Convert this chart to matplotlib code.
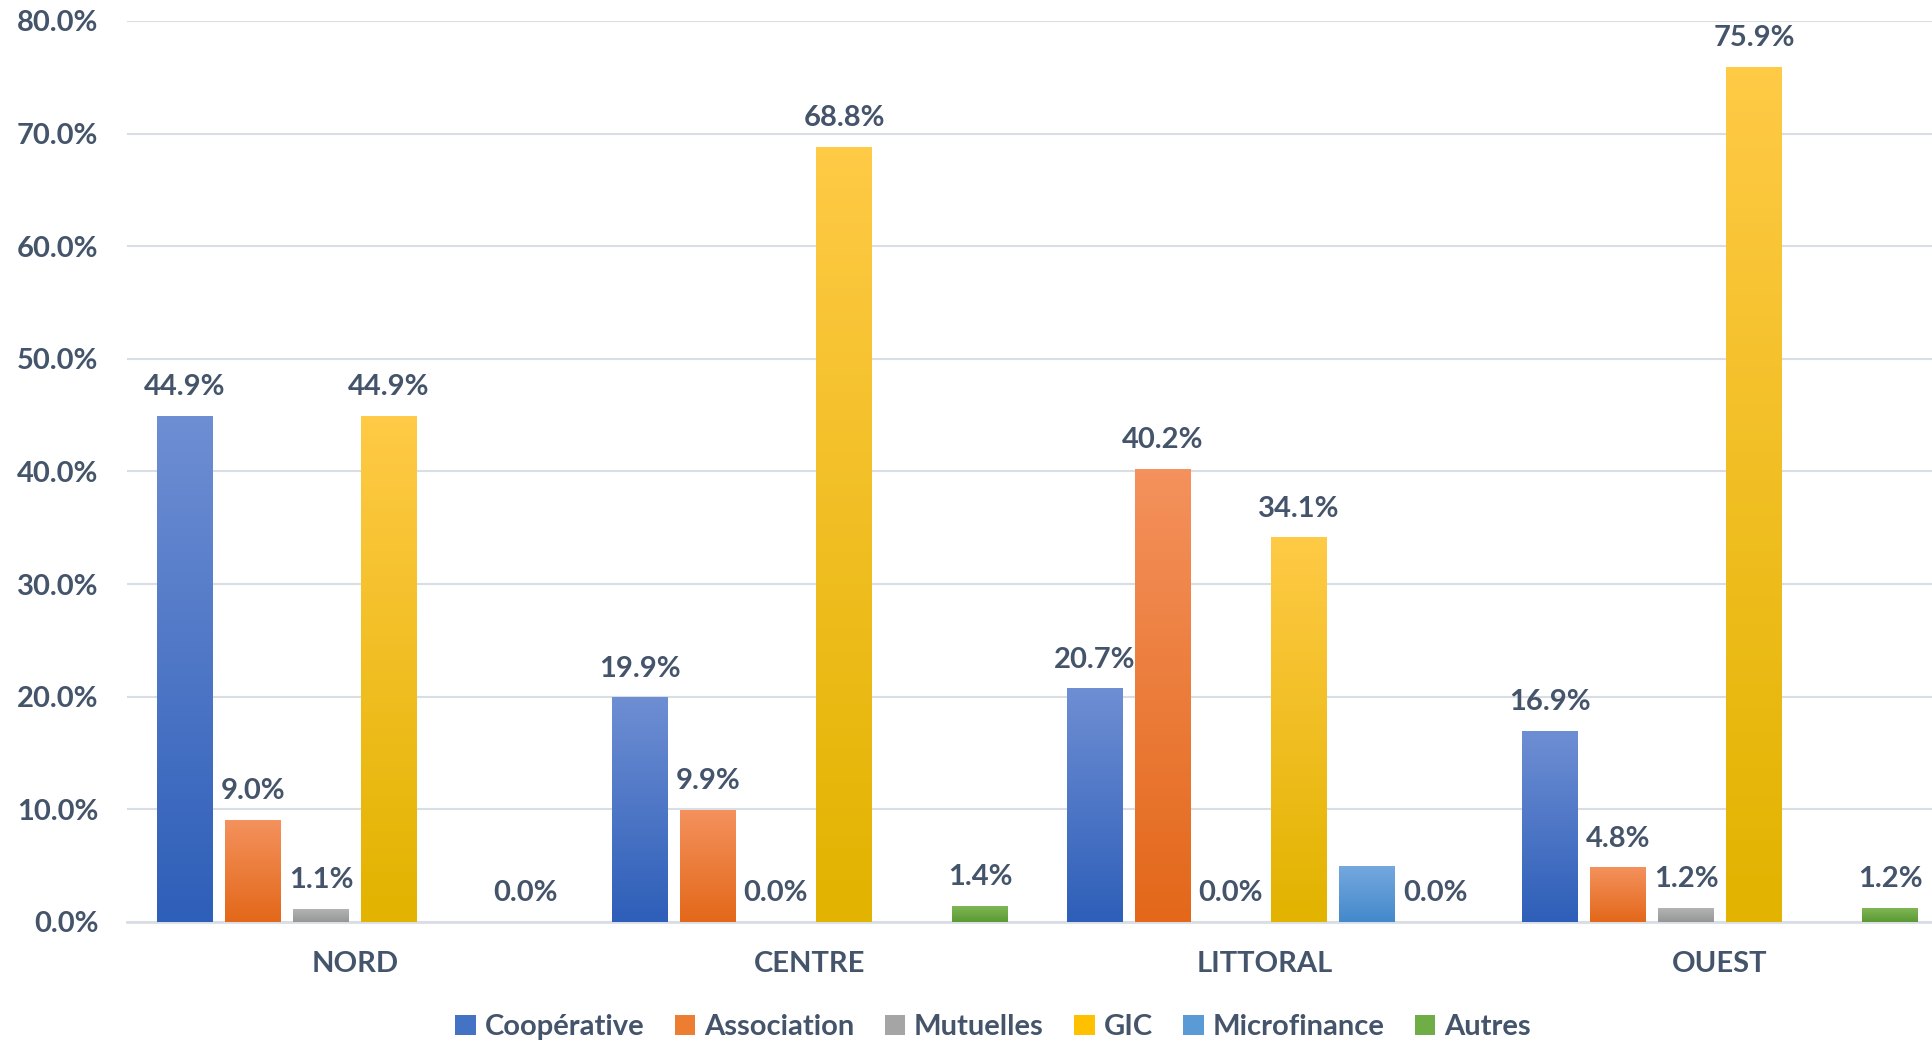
import numpy as np
import matplotlib
matplotlib.use('Agg')
import matplotlib.pyplot as plt
from matplotlib.colors import LinearSegmentedColormap
from matplotlib.patches import Patch

regions = ['NORD', 'CENTRE', 'LITTORAL', 'OUEST']
series = ['Coopérative', 'Association', 'Mutuelles', 'GIC', 'Microfinance', 'Autres']
cooperative = [44.9, 19.9, 20.7, 16.9]
association = [9.0, 9.9, 40.2, 4.8]
mutuelles = [1.1, 0.0, 0.0, 1.2]
gic = [44.9, 68.8, 34.1, 75.9]
microfinance = [np.nan, np.nan, 4.9, np.nan]
autres = [0.0, 1.4, 0.0, 1.2]
show_labels = [True, True, True, True, False, True]

values = [cooperative, association, mutuelles, gic, microfinance, autres]
# (top colour, bottom colour) for the gradient fill
colors = [('#6E8ED3', '#2E5FB9'),
          ('#F4915C', '#E3681A'),
          ('#B3B3B3', '#979797'),
          ('#FFCA45', '#E2B300'),
          ('#74A8DE', '#4489CC'),
          ('#7FB655', '#5B9A33')]
mid_colors = ['#4472C4', '#ED7D31', '#A5A5A5', '#FFC000', '#5B9BD5', '#70AD47']

text_color = '#44546A'
fs = 21
plt.rcParams['font.family'] = ['Lato', 'DejaVu Sans']
plt.rcParams['font.weight'] = 'bold'

fig = plt.figure(figsize=(19.33, 10.43), dpi=100)
ax = fig.add_axes([127.5 / 1933, 121 / 1043, 1820 / 1933, 901 / 1043])

pitch = 0.1495
width = 0.123
x = np.arange(len(regions))
grad = np.linspace(1, 0, 64).reshape(-1, 1)

for i, (name, vals) in enumerate(zip(series, values)):
    pos = x + (i - 2.5) * pitch
    bars = ax.bar(pos, vals, width=width, color='none', edgecolor='none', zorder=2)
    cmap = LinearSegmentedColormap.from_list(name, [colors[i][1], colors[i][0]])
    for rect, v in zip(bars, vals):
        if np.isnan(v) or v <= 0:
            continue
        x0 = rect.get_x()
        ax.imshow(grad, extent=[x0, x0 + rect.get_width(), 0, v], aspect='auto',
                  cmap=cmap, vmin=0, vmax=1, zorder=3, interpolation='bilinear')
    if show_labels[i]:
        for p, v in zip(pos, vals):
            if np.isnan(v):
                continue
            ax.annotate(f'{v:.1f}%', (p, v), xytext=(0, 21), textcoords='offset points',
                        ha='center', va='center', fontsize=fs, fontweight='bold',
                        color=text_color, zorder=4)

ax.set_xlim(-0.5, 3.5)
ax.set_ylim(0, 80)
ax.set_yticks(np.arange(0, 81, 10))
ax.set_yticklabels([f'{t:.1f}%' for t in np.arange(0, 81, 10)])
ax.set_xticks(x)
ax.set_xticklabels(regions)
ax.tick_params(axis='both', length=0, labelsize=fs, labelcolor=text_color)
ax.tick_params(axis='y', pad=21)
ax.tick_params(axis='x', pad=21)
for lab in ax.get_xticklabels() + ax.get_yticklabels():
    lab.set_fontweight('bold')

ax.grid(axis='y', color='#D9DDE4', linewidth=1.5, zorder=0)
ax.set_axisbelow(True)
for s in ['top', 'right', 'left']:
    ax.spines[s].set_visible(False)
ax.spines['bottom'].set_color('#D9DDE4')
ax.spines['bottom'].set_linewidth(2)

handles = [Patch(facecolor=c, edgecolor='none') for c in mid_colors]
fig.legend(handles, series, loc='center', bbox_to_anchor=(993 / 1933, 1 - 1027 / 1043),
           ncol=6, frameon=False, handlelength=0.7, handleheight=0.7,
           handletextpad=0.3, columnspacing=1.05, labelcolor=text_color,
           prop={'weight': 'bold', 'size': fs})

fig.savefig('out.png', dpi=100)
